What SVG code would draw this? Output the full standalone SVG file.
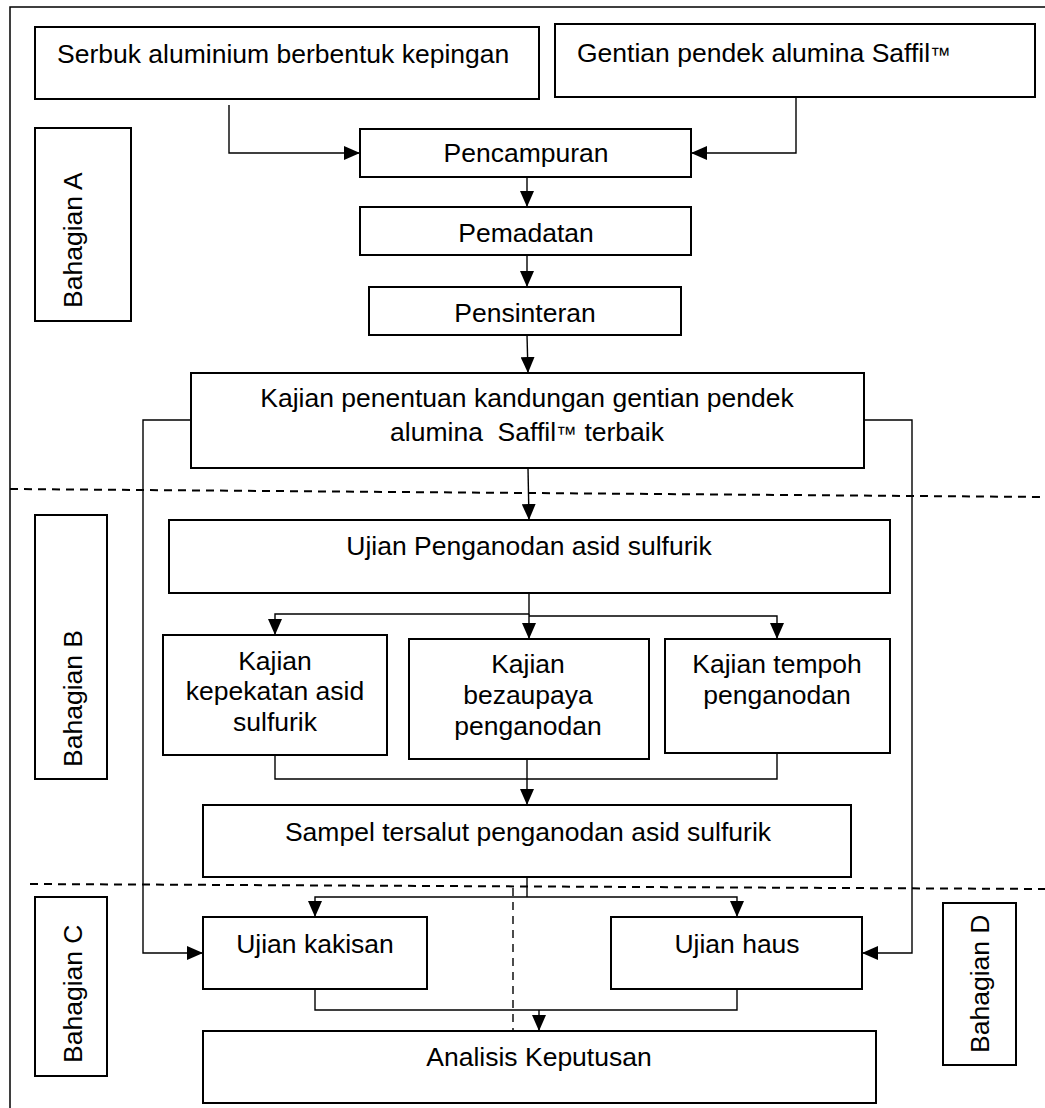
<svg xmlns="http://www.w3.org/2000/svg" width="1045" height="1108" viewBox="0 0 1045 1108">
<style>
.box{fill:#fff;stroke:#000;stroke-width:2}
.t{font-family:"Liberation Sans",Arial,sans-serif;font-size:26.5px;fill:#000}
.m{text-anchor:middle}
.c{fill:none;stroke:#000;stroke-width:1.4}
.d{fill:none;stroke:#000;stroke-width:2;stroke-dasharray:8 6}
.dv{fill:none;stroke:#000;stroke-width:1.4;stroke-dasharray:8 6}
</style>
<defs>
<marker id="ah" markerUnits="userSpaceOnUse" markerWidth="16" markerHeight="14" refX="16" refY="7" orient="auto">
<path d="M0,0 L16,7 L0,14 z" fill="#000"/>
</marker>
</defs>
<rect width="1045" height="1108" fill="#fff"/>
<g id="frame">
<path d="M10,1108 V7 H1045" fill="none" stroke="#000" stroke-width="1.5"/>
</g>
<g id="dividers">
<path class="d" d="M10,489 L1045,497"/>
<path class="d" d="M30,884 L1045,889"/>
<path class="dv" d="M513,888 V1031"/>
</g>
<g id="connectors">
<path class="c" d="M229,105 V153 H360" marker-end="url(#ah)"/>
<path class="c" d="M796,97 V153 H691" marker-end="url(#ah)"/>
<path class="c" d="M527,177 V207" marker-end="url(#ah)"/>
<path class="c" d="M527,255 V287" marker-end="url(#ah)"/>
<path class="c" d="M527,335 L528,373" marker-end="url(#ah)"/>
<path class="c" d="M528,468 L529,520" marker-end="url(#ah)"/>
<path class="c" d="M191,420 H143 V953 H203" marker-end="url(#ah)"/>
<path class="c" d="M864,420 H912 V953 H862" marker-end="url(#ah)"/>
<path class="c" d="M529,593 V614 H275 V635" marker-end="url(#ah)"/>
<path class="c" d="M529,614 V639" marker-end="url(#ah)"/>
<path class="c" d="M529,616 H777 V639" marker-end="url(#ah)"/>
<path class="c" d="M275,755 V779 H777 V753"/>
<path class="c" d="M527,759 V805" marker-end="url(#ah)"/>
<path class="c" d="M527,877 V897"/>
<path class="c" d="M527,897 H315 V917" marker-end="url(#ah)"/>
<path class="c" d="M527,897 H737 V917" marker-end="url(#ah)"/>
<path class="c" d="M315,989 V1010 H737 V989"/>
<path class="c" d="M539,1010 V1031" marker-end="url(#ah)"/>
</g>
<g id="serbuk">
<rect class="box" x="35" y="27" width="504" height="72"/>
<text class="t" x="57" y="63">Serbuk aluminium berbentuk kepingan</text>
</g>
<g id="gentian">
<rect class="box" x="555" y="24" width="480" height="73"/>
<text class="t" x="577" y="62">Gentian pendek alumina Saffil<tspan font-size="21">™</tspan></text>
</g>
<g id="pencampuran">
<rect class="box" x="360" y="129" width="331" height="48"/>
<text class="t m" x="526" y="162">Pencampuran</text>
</g>
<g id="pemadatan">
<rect class="box" x="360" y="207" width="331" height="48"/>
<text class="t m" x="526" y="242">Pemadatan</text>
</g>
<g id="pensinteran">
<rect class="box" x="369" y="287" width="312" height="48"/>
<text class="t m" x="525" y="322">Pensinteran</text>
</g>
<g id="kajian-penentuan">
<rect class="box" x="191" y="373" width="673" height="95"/>
<text class="t m" x="527" y="407">Kajian penentuan kandungan gentian pendek</text>
<text class="t m" x="527" y="441" xml:space="preserve">alumina  Saffil<tspan font-size="21">™</tspan> terbaik</text>
</g>
<g id="ujian-penganodan">
<rect class="box" x="169" y="520" width="721" height="73"/>
<text class="t m" x="529" y="555">Ujian Penganodan asid sulfurik</text>
</g>
<g id="kajian-kepekatan">
<rect class="box" x="163" y="635" width="224" height="120"/>
<text class="t m" x="275" y="670">Kajian</text>
<text class="t m" x="275" y="700">kepekatan asid</text>
<text class="t m" x="275" y="731">sulfurik</text>
</g>
<g id="kajian-bezaupaya">
<rect class="box" x="409" y="639" width="240" height="120"/>
<text class="t m" x="528" y="673">Kajian</text>
<text class="t m" x="528" y="704">bezaupaya</text>
<text class="t m" x="528" y="735">penganodan</text>
</g>
<g id="kajian-tempoh">
<rect class="box" x="665" y="639" width="225" height="114"/>
<text class="t m" x="777" y="673">Kajian tempoh</text>
<text class="t m" x="777" y="704">penganodan</text>
</g>
<g id="sampel">
<rect class="box" x="203" y="805" width="648" height="72"/>
<text class="t m" x="528" y="841">Sampel tersalut penganodan asid sulfurik</text>
</g>
<g id="ujian-kakisan">
<rect class="box" x="203" y="917" width="224" height="72"/>
<text class="t m" x="315" y="953">Ujian kakisan</text>
</g>
<g id="ujian-haus">
<rect class="box" x="611" y="917" width="251" height="72"/>
<text class="t m" x="737" y="953">Ujian haus</text>
</g>
<g id="analisis">
<rect class="box" x="203" y="1031" width="673" height="72"/>
<text class="t m" x="539" y="1066">Analisis Keputusan</text>
</g>
<g id="bahagian-a">
<rect class="box" x="35" y="128" width="96" height="193"/>
<text class="t" transform="translate(82,308) rotate(-90)">Bahagian A</text>
</g>
<g id="bahagian-b">
<rect class="box" x="35" y="515" width="72" height="264"/>
<text class="t" transform="translate(82,767) rotate(-90)">Bahagian B</text>
</g>
<g id="bahagian-c">
<rect class="box" x="35" y="897" width="72" height="179"/>
<text class="t" transform="translate(82,1063) rotate(-90)">Bahagian C</text>
</g>
<g id="bahagian-d">
<rect class="box" x="943" y="903" width="73" height="162"/>
<text class="t" transform="translate(989,1053) rotate(-90)">Bahagian D</text>
</g>
</svg>
